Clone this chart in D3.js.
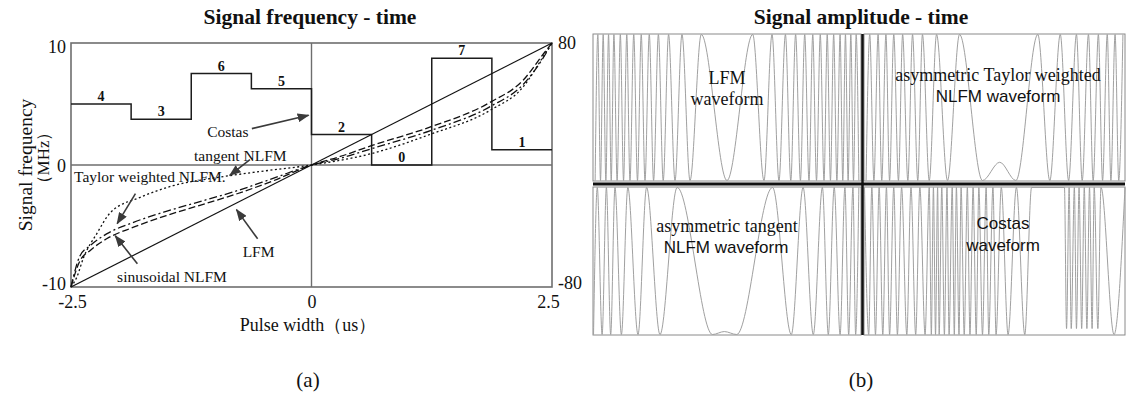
<!DOCTYPE html>
<html>
<head>
<meta charset="utf-8">
<script src="https://cdn.jsdelivr.net/npm/d3@7"></script>
<style>
  body { margin: 0; background: #fff; }
  svg { display: block; font-family: "Liberation Serif", "Times New Roman", serif; }
</style>
</head>
<body>
<svg id="chart" width="1126" height="394"></svg>
<script>
// ---------- panel (a): frequency vs time ----------
const costasOrder = [4, 3, 6, 5, 2, 0, 7, 1];   // hop index per slot
const costasStepMHz = 1.25;
const costasSlot = 0.625;                        // us per slot
const lfmX = [-2.5, 2.5];
const lfmY = [-10, 10];
const tanX = [-2.5, -2.44, -2.37, -2.23, -2.09, -1.78, -1.44, -1.0, -0.5, 0, 0.63, 1.23, 1.86, 2.2, 2.41, 2.5];
const tanY = [-10, -9.2, -7.6, -5.6, -3.9, -2.65, -1.7, -1.05, -0.5, 0, 0.95, 2.5, 4.5, 6.4, 8.9, 10];
const nlfmX = [-2.5, -2.41, -2.3, -2.13, -1.85, -1.51, -1.16, -0.81, -0.4, 0, 0.3, 0.63, 1.23, 1.86, 2.2, 2.41, 2.5];
const sinY = [-10, -7.9, -7.0, -6.05, -5.1, -4.15, -3.3, -2.45, -1.3, 0, 0.7, 1.6, 3.1, 5.15, 6.95, 9.1, 10];
const taylorY = [-10, -7.5, -6.6, -5.65, -4.7, -3.8, -3.0, -2.2, -1.1, 0, 0.55, 1.35, 2.8, 4.8, 6.6, 8.8, 10];
const xTicks = [-2.5, 0, 2.5];
const yTicks = [-10, 0, 10];
const y2Ticks = [-80, 80];

// ---------- panel (b): waveform extrema (time in us, level -1..1) ----------
const lfmHalfT = [0, 0.48, 0.69, 0.84, 0.97, 1.09, 1.19, 1.28, 1.37, 1.45, 1.53, 1.60, 1.67, 1.74, 1.81, 1.87, 1.93, 1.99, 2.05, 2.11, 2.16, 2.21, 2.26, 2.31, 2.36, 2.41, 2.46];
const lfmHalfA = [-1, 1, -1, 1, -1, 1, -1, 1, -1, 1, -1, 1, -1, 1, -1, 1, -1, 1, -1, 1, -1, 1, -1, 1, -1, 1, -1];
const taylorWT = [-2.46, -2.39, -2.31, -2.23, -2.16, -2.08, -2.01, -1.93, -1.84, -1.76, -1.66, -1.57, -1.47, -1.38, -1.25, -1.11, -0.90, -0.67, -0.23, 0.10, 0.41, 0.83, 1.06, 1.26, 1.42, 1.57, 1.68, 1.80, 1.89, 1.99, 2.07, 2.16, 2.23, 2.31, 2.38, 2.46];
const taylorWA = [-1, 1, -1, 1, -1, 1, -1, 1, -1, 1, -1, 1, -1, 1, -1, 1, -1, 1, -1, -0.75, -1, 1, -1, 1, -1, 1, -1, 1, -1, 1, -1, 1, -1, 1, -1, 1];
const tangentWT = [-2.49, -2.42, -2.33, -2.25, -2.17, -2.09, -1.97, -1.85, -1.66, -1.50, -1.25, -0.93, -0.27, -0.05, 0.18, 0.85, 1.20, 1.42, 1.61, 1.78, 1.89, 2.00, 2.11, 2.20, 2.27, 2.35, 2.40, 2.46];
const tangentWA = [-1, 1, -1, 1, -1, 1, -1, 1, -1, 1, -1, 1, -1, -0.96, -1, 1, -1, 1, -1, 1, -1, 1, -1, 1, -1, 1, -1, 1];
const costasWT = [-2.49, -2.41, -2.35, -2.28, -2.21, -2.14, -2.07, -2.01, -1.93, -1.86, -1.78, -1.68, -1.60, -1.51, -1.43, -1.33, -1.25, -1.21, -1.17, -1.13, -1.09, -1.06, -1.01, -0.96, -0.91, -0.87, -0.81, -0.77, -0.73, -0.68, -0.64, -0.58, -0.52, -0.47, -0.41, -0.35, -0.30, -0.23, -0.16, -0.11, -0.03, 0.03, 0.13, 0.26, 0.42, 0.58, 0.71, 1.34, 1.38, 1.43, 1.47, 1.53, 1.57, 1.62, 1.67, 1.72, 1.77, 1.82, 1.87, 1.91, 1.98, 2.04, 2.29, 2.50];
const costasWA = [1, -1, 1, -1, 1, -1, 1, -1, 1, -1, 1, -1, 1, -1, 1, -1, 1, -1, 1, -1, 1, -1, 1, -1, 1, -1, 1, -1, 1, -1, 1, -1, 1, -1, 1, -1, 1, -1, 1, -1, 1, -1, 1, -1, 1, -1, 1, 1, -0.92, 1, -0.92, 1, -0.92, 1, -0.92, 1, -0.92, 1, -0.92, 1, -0.92, 1, -1, 1];

const svg = d3.select("#chart");

svg.append("defs").append("marker")
    .attr("id", "arrow")
    .attr("markerUnits", "userSpaceOnUse")
    .attr("markerWidth", 12).attr("markerHeight", 9)
    .attr("refX", 11).attr("refY", 4.5)
    .attr("orient", "auto")
  .append("path")
    .attr("d", "M0,0 L12,4.5 L0,9 Z")
    .attr("fill", "#3a3a3a");

// ===== panel (a) =====
const x = d3.scaleLinear().domain([-2.5, 2.5]).range([71, 552]);
const y = d3.scaleLinear().domain([-10, 10]).range([287, 43]);
const y2 = d3.scaleLinear().domain([-80, 80]).range([287, 43]);

const ga = svg.append("g");

ga.append("rect")
    .attr("x", x(-2.5)).attr("y", y(10))
    .attr("width", x(2.5) - x(-2.5)).attr("height", y(-10) - y(10))
    .attr("fill", "none").attr("stroke", "#6e6e6e").attr("stroke-width", 1.6);

ga.append("line")
    .attr("x1", x(-2.5)).attr("x2", x(2.5)).attr("y1", y(0)).attr("y2", y(0))
    .attr("stroke", "#6e6e6e").attr("stroke-width", 1.4);
ga.append("line")
    .attr("x1", x(0)).attr("x2", x(0)).attr("y1", y(-10)).attr("y2", y(10))
    .attr("stroke", "#6e6e6e").attr("stroke-width", 1.4);

// axes (labels only), hyphen minus as in the source figure
const fmt = d => String(d);
const axL = ga.append("g").attr("transform", `translate(${x(-2.5)},0)`)
    .call(d3.axisLeft(y).tickValues(yTicks).tickSize(0).tickPadding(5).tickFormat(fmt));
const axB = ga.append("g").attr("transform", `translate(0,${y(-10)})`)
    .call(d3.axisBottom(x).tickValues(xTicks).tickSize(0).tickPadding(8).tickFormat(fmt));
const axR = ga.append("g").attr("transform", `translate(${x(2.5)},0)`)
    .call(d3.axisRight(y2).tickValues(y2Ticks).tickSize(0).tickPadding(6).tickFormat(fmt));
[axL, axB, axR].forEach(a => {
  a.select(".domain").remove();
  a.selectAll("text").attr("font-family", "Liberation Serif").attr("font-size", 18).attr("fill", "#111");
});
axL.selectAll("text").attr("dy", d => d === 10 ? "0.5em" : d === -10 ? "0.15em" : "0.35em");
axB.selectAll("text").filter(d => d === 2.5).attr("dx", -4);
axB.selectAll("text").filter(d => d === -2.5).attr("dx", 1);
axR.selectAll("text").filter(d => d === -80).attr("dy", "0.1em");

// Costas steps
const costasPts = costasOrder.map((k, i) => [-2.5 + i * costasSlot, k * costasStepMHz]);
costasPts.push([2.5, costasOrder[costasOrder.length - 1] * costasStepMHz]);
ga.append("path")
    .attr("d", d3.line().x(d => x(d[0])).y(d => y(d[1])).curve(d3.curveStepAfter)(costasPts))
    .attr("fill", "none").attr("stroke", "#1c1c1c").attr("stroke-width", 1.5);
ga.selectAll(".clab").data(costasOrder).join("text")
    .attr("x", (k, i) => x(-2.5 + (i + 0.5) * costasSlot))
    .attr("y", k => y(k * costasStepMHz) - 3)
    .attr("text-anchor", "middle")
    .attr("font-size", 14).attr("font-weight", "bold").attr("fill", "#111")
    .text(k => k);

// LFM and NLFM curves
const curve = d3.line().x(d => x(d[0])).y(d => y(d[1])).curve(d3.curveMonotoneX);
ga.append("path").attr("d", curve(d3.zip(lfmX, lfmY)))
    .attr("fill", "none").attr("stroke", "#111").attr("stroke-width", 1.2);
ga.append("path").attr("d", curve(d3.zip(tanX, tanY)))
    .attr("fill", "none").attr("stroke", "#111").attr("stroke-width", 1.3).attr("stroke-dasharray", "2,2.5");
ga.append("path").attr("d", curve(d3.zip(nlfmX, sinY)))
    .attr("fill", "none").attr("stroke", "#111").attr("stroke-width", 1.3).attr("stroke-dasharray", "7,3");
ga.append("path").attr("d", curve(d3.zip(nlfmX, taylorY)))
    .attr("fill", "none").attr("stroke", "#111").attr("stroke-width", 1.3).attr("stroke-dasharray", "8,3,2,3");

// annotations
const notes = [
  { text: "Costas", lx: -0.87, ly: 2.76, ax: [-0.62, 2.98], bx: [-0.03, 4.07] },
  { text: "tangent NLFM", lx: -0.74, ly: 0.8, ax: [-0.64, 0.45], bx: [-0.85, -0.86] },
  { text: "Taylor weighted NLFM.", lx: -1.68, ly: -0.95, ax: [-1.83, -2.35], bx: [-2.02, -4.81] },
  { text: "sinusoidal NLFM", lx: -1.45, ly: -9.18, ax: [-1.81, -8.1], bx: [-2.04, -5.8] },
  { text: "LFM", lx: -0.55, ly: -7.1, ax: [-0.56, -6.05], bx: [-0.78, -3.66] }
];
notes.forEach(n => {
  ga.append("line")
      .attr("x1", x(n.ax[0])).attr("y1", y(n.ax[1]))
      .attr("x2", x(n.bx[0])).attr("y2", y(n.bx[1]))
      .attr("stroke", "#3a3a3a").attr("stroke-width", 1.6)
      .attr("marker-end", "url(#arrow)");
  ga.append("text")
      .attr("x", x(n.lx)).attr("y", y(n.ly)).attr("dy", "0.35em")
      .attr("text-anchor", "middle").attr("font-size", 15.5).attr("fill", "#111")
      .text(n.text);
});

ga.append("text").attr("x", 310).attr("y", 24).attr("text-anchor", "middle")
    .attr("font-size", 21.5).attr("font-weight", "bold").attr("fill", "#111")
    .text("Signal frequency - time");
ga.append("text").attr("x", 308).attr("y", 331).attr("text-anchor", "middle")
    .attr("font-size", 18).attr("fill", "#111")
    .text("Pulse width（us）");
ga.append("text").attr("transform", "translate(25,165) rotate(-90)").attr("dy", "0.35em")
    .attr("text-anchor", "middle").attr("font-size", 19.5).attr("fill", "#111")
    .text("Signal frequency");
ga.append("text").attr("transform", "translate(43,158) rotate(-90)").attr("dy", "0.35em")
    .attr("text-anchor", "middle").attr("font-size", 17).attr("fill", "#111")
    .text("（MHz）");
ga.append("text").attr("x", 308).attr("y", 387).attr("text-anchor", "middle")
    .attr("font-size", 21).attr("fill", "#111").text("(a)");

// ===== panel (b) =====
const gb = svg.append("g");
const lfmT = lfmHalfT.slice(1).map(t => -t).reverse().concat(lfmHalfT);
const lfmA = lfmHalfA.slice(1).reverse().concat(lfmHalfA);

const cols = [[593, 861], [864, 1125]];
const rows = [[34, 181], [187, 335]];
const subs = [
  { t: lfmT, a: lfmA, c: 0, r: 0 },
  { t: taylorWT, a: taylorWA, c: 1, r: 0 },
  { t: tangentWT, a: tangentWA, c: 0, r: 1 },
  { t: costasWT, a: costasWA, c: 1, r: 1 }
];
subs.forEach(s => {
  const xs = d3.scaleLinear().domain([-2.5, 2.5]).range(cols[s.c]);
  const ys = d3.scaleLinear().domain([-1, 1]).range([rows[s.r][1] - 0.5, rows[s.r][0] + 0.5]);
  gb.append("rect")
      .attr("x", cols[s.c][0]).attr("y", rows[s.r][0])
      .attr("width", cols[s.c][1] - cols[s.c][0]).attr("height", rows[s.r][1] - rows[s.r][0])
      .attr("fill", "none").attr("stroke", "#8a8a8a").attr("stroke-width", 1);
  gb.append("path")
      .attr("d", d3.line().x(d => xs(d[0])).y(d => ys(d[1])).curve(d3.curveMonotoneX)(d3.zip(s.t, s.a)))
      .attr("fill", "none").attr("stroke", "#a0a0a0").attr("stroke-width", 1);
});
gb.append("line").attr("x1", 593).attr("x2", 1125).attr("y1", 184).attr("y2", 184)
    .attr("stroke", "#111").attr("stroke-width", 3);
gb.append("line").attr("x1", 862.5).attr("x2", 862.5).attr("y1", 34).attr("y2", 335)
    .attr("stroke", "#111").attr("stroke-width", 2.5);

const serifLab = [
  { text: "LFM", x: 727, y: 84 }, { text: "waveform", x: 727, y: 105 },
  { text: "asymmetric Taylor weighted", x: 998, y: 81 },
  { text: "asymmetric tangent", x: 727, y: 232 }
];
const sansLab = [
  { text: "NLFM waveform", x: 998, y: 102 },
  { text: "NLFM waveform", x: 726, y: 253 },
  { text: "Costas", x: 1003, y: 229 }, { text: "waveform", x: 1003, y: 251 }
];
gb.selectAll(".sl").data(serifLab).join("text")
    .attr("x", d => d.x).attr("y", d => d.y).attr("text-anchor", "middle")
    .attr("font-size", 18).attr("fill", "#111").text(d => d.text);
gb.selectAll(".nl").data(sansLab).join("text")
    .attr("x", d => d.x).attr("y", d => d.y).attr("text-anchor", "middle")
    .attr("font-family", "Liberation Sans").attr("font-size", 17).attr("fill", "#111").text(d => d.text);

gb.append("text").attr("x", 861).attr("y", 24).attr("text-anchor", "middle")
    .attr("font-size", 21.5).attr("font-weight", "bold").attr("fill", "#111")
    .text("Signal amplitude - time");
gb.append("text").attr("x", 861).attr("y", 387).attr("text-anchor", "middle")
    .attr("font-size", 21).attr("fill", "#111").text("(b)");
</script>
</body>
</html>
